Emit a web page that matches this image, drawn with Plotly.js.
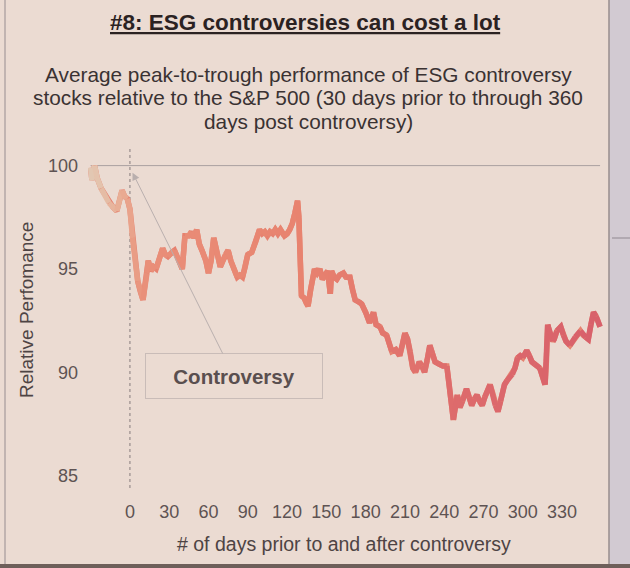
<!DOCTYPE html>
<html><head><meta charset="utf-8">
<script src="https://cdn.plot.ly/plotly-3.0.1.min.js"></script>
<style>html,body{margin:0;padding:0;background:#ebdbd2}</style>
</head><body><div id="chart" style="width:630px;height:568px"></div>
<script>
// ---- data ----
const days = [-30,-29,-27,-25,-22,-19,-16,-13,-10,-8,-6,-4,-2,0,2,4,6,8,10,11,13,14,16,18,20,23,25,27,29,32,34,36,38,40,42,45,47,49,51,53,55,58,60,62,64,66,69,71,73,75,77,80,82,84,86,88,90,93,96,99,101,103,105,107,109,111,113,115,118,120,122,124,126,128,129,130,131,133,135,136,138,140,141,143,145,147,149,151,153,154,156,158,160,163,165,168,170,172,175,177,180,183,186,188,191,193,196,198,200,203,206,208,210,212,214,216,218,221,223,225,227,229,231,233,236,239,242,244,247,249,250,252,254,257,259,261,263,265,267,269,271,273,275,277,279,281,283,286,288,290,292,294,296,298,300,303,305,307,309,311,313,315,317,318,319,321,323,324,326,329,331,333,336,338,340,342,344,346,348,350,352,354,356,358,359];
const performance = [99.9,99.3,100.0,99.4,98.9,98.6,98.2,98.0,97.8,98.3,98.8,98.5,98.4,97.9,96.5,95.2,94.4,93.9,93.5,94.0,94.8,95.4,94.9,95.1,95.0,95.6,96.0,95.7,95.6,95.8,95.9,95.6,95.3,95.0,96.6,96.6,96.8,96.5,96.9,96.2,95.9,95.4,94.8,95.4,96.5,95.9,95.1,95.4,95.7,95.9,95.4,94.9,94.6,94.7,94.6,95.1,95.7,95.8,96.3,96.9,96.7,96.8,96.6,96.8,96.7,96.9,96.7,96.9,96.6,96.7,96.9,97.2,97.7,98.3,97.5,95.0,93.7,93.6,93.3,93.2,94.0,94.6,95.0,94.8,95.0,94.5,94.7,94.9,93.8,94.9,94.6,94.5,94.7,94.8,94.6,94.6,94.0,93.5,93.4,93.3,92.9,92.4,92.9,92.3,92.2,91.9,91.8,91.3,91.0,91.1,90.8,91.3,91.9,91.6,91.0,90.2,90.0,90.5,90.3,90.0,90.6,91.3,90.9,90.5,90.4,90.3,90.3,89.2,87.7,88.6,88.9,88.3,88.6,89.2,88.8,88.4,88.7,88.9,88.6,88.4,88.8,89.1,89.4,89.0,88.4,88.1,88.6,89.4,89.6,89.8,89.9,90.2,90.7,90.8,90.7,91.05,90.8,90.5,90.4,90.3,90.2,89.8,89.4,90.5,92.3,91.8,91.5,91.6,92.0,92.2,91.8,91.5,91.3,91.5,91.7,91.9,92.0,91.8,91.7,91.6,92.3,92.9,92.7,92.4,92.2];
const xTickVals = [0,30,60,90,120,150,180,210,240,270,300,330];
const yTickVals = [85,90,95,100];
const controversyDay = 0;
const chartTitle = '<u>#8: ESG controversies can cost a lot</u>';
const subtitleLines = ['Average peak-to-trough performance of ESG controversy','stocks relative to the S&P 500 (30 days prior to through 360','days post controversy)'];
const xTitle = '# of days prior to and after controversy';
const yTitle = 'Relative Perfomance';
const calloutText = '<b>Controversy</b>';

// ---- colour gradient along the line ----
const colorStops = [[-30,[226,201,180]],[-5,[233,172,146]],[12,[233,143,121]],[130,[232,131,111]],[250,[221,107,108]],[360,[216,96,107]]];
function colorAt(d){
  for(let i=0;i<colorStops.length-1;i++){
    const [d0,c0]=colorStops[i],[d1,c1]=colorStops[i+1];
    if(d<=d1){const t=Math.max(0,(d-d0)/(d1-d0));
      return 'rgb('+c0.map((v,k)=>Math.round(v+(c1[k]-v)*t)).join(',')+')';}
  }
  const c=colorStops[colorStops.length-1][1];return 'rgb('+c.join(',')+')';
}
const LW=5.5;
const traces=[{x:days,y:performance,type:'scatter',mode:'lines',line:{color:'rgb(230,130,112)',width:LW},hoverinfo:'skip'}];
const step=2;
for(let i=0;i<days.length-1;i+=step){
  const j=Math.min(i+step,days.length-1);
  const xs=days.slice(i,j+1),ys=performance.slice(i,j+1);
  traces.push({x:xs,y:ys,type:'scatter',mode:'lines',line:{color:colorAt((xs[0]+xs[xs.length-1])/2),width:LW},hoverinfo:'skip'});
}

// ---- layout helpers ----
const W=630,H=568,PL=88,PR=604,PT=147,PB=488;
const px2x=p=>(p-PL)/(PR-PL), py2y=p=>(PB-p)/(PB-PT);
const bg='#ebdbd2';
const FF='"Liberation Sans", Arial, sans-serif';
const tickFont={family:FF,size:18,color:'#5e5353'};

const annotations=[
  {xref:'paper',yref:'paper',x:px2x(305),y:py2y(22),xanchor:'center',yanchor:'middle',showarrow:false,text:chartTitle,
   font:{family:'"Liberation Sans Narrow", "Arial Narrow", "Liberation Sans", sans-serif',size:22.5,color:'#2b2222',weight:'bold'}},
  {xref:'paper',yref:'paper',x:px2x(344),y:py2y(544),xanchor:'center',yanchor:'middle',showarrow:false,text:xTitle,
   font:{family:FF,size:19.5,color:'#4e4444'}},
  {xref:'paper',yref:'paper',x:px2x(26),y:py2y(310),xanchor:'center',yanchor:'middle',showarrow:false,text:yTitle,textangle:-90,
   font:{family:FF,size:19,color:'#4e4444'}},
  {x:2,y:99.66,xref:'x',yref:'y',ax:79.4,ay:89.82,axref:'x',ayref:'y',text:calloutText,showarrow:true,
   arrowhead:2,arrowsize:1.5,arrowwidth:1,arrowcolor:'#b9afae',standoff:0,
   bordercolor:'#c9bcb8',borderwidth:1,borderpad:0,width:176,height:44,align:'center',valign:'middle',
   font:{family:FF,size:20.5,color:'#5a4f4f'}}
];
const subY=[75,98,121];
subtitleLines.forEach((t,i)=>annotations.push({xref:'paper',yref:'paper',x:px2x(308),y:py2y(subY[i]),xanchor:'center',yanchor:'middle',showarrow:false,text:t,
  font:{family:FF,size:20.8,color:'#3a3232'}}));

const layout={
  width:W,height:H,
  paper_bgcolor:bg,plot_bgcolor:'rgba(0,0,0,0)',
  margin:{l:PL,r:W-PR,t:PT,b:H-PB,pad:0},
  showlegend:false,
  xaxis:{range:[-32,362],tickvals:xTickVals,ticktext:xTickVals.map(String),showgrid:false,zeroline:false,showline:false,ticks:'',tickfont:tickFont,ticklabelstandoff:11,fixedrange:true},
  yaxis:{range:[84.4,100.9],tickvals:yTickVals,ticktext:yTickVals.map(String),showgrid:false,zeroline:false,showline:false,ticks:'',tickfont:tickFont,ticklabelstandoff:9,fixedrange:true},
  shapes:[
    {type:'rect',xref:'paper',yref:'paper',x0:px2x(609),x1:px2x(634),y0:py2y(572),y1:py2y(-4),fillcolor:'#d2cad2',line:{width:0},layer:'below'},
    {type:'line',xref:'paper',yref:'paper',x0:px2x(609),x1:px2x(609),y0:py2y(566),y1:py2y(-4),line:{color:'#978d8d',width:1.5}},
    {type:'line',xref:'paper',yref:'paper',x0:px2x(612),x1:px2x(634),y0:py2y(238),y1:py2y(238),line:{color:'#a69ea6',width:1.5}},
    {type:'line',xref:'paper',yref:'paper',x0:px2x(5),x1:px2x(5),y0:py2y(566),y1:py2y(-4),line:{color:'#b3a7a6',width:1.5}},
    {type:'rect',xref:'paper',yref:'paper',x0:px2x(-4),x1:px2x(634),y0:py2y(572),y1:py2y(564),fillcolor:'#6e5f5a',line:{width:0}},
    {type:'line',xref:'x',yref:'y',x0:days[0],x1:days[days.length-1],y0:100,y1:100,line:{color:'#aaa0a0',width:1},layer:'below'},
    {type:'line',xref:'x',yref:'paper',x0:controversyDay,x1:controversyDay,y0:0,y1:1,line:{color:'#a89b99',width:1.5,dash:'dot'},layer:'below'}
  ],
  annotations:annotations
};
Plotly.newPlot('chart',traces,layout,{staticPlot:true,displayModeBar:false});
</script></body></html>
